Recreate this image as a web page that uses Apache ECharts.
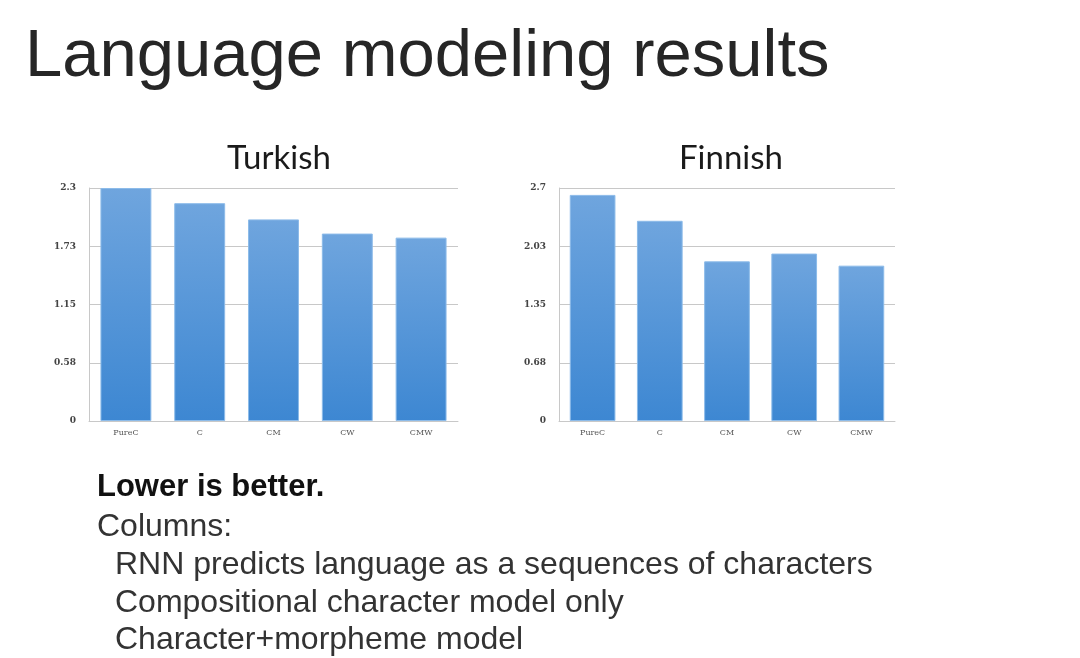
<!DOCTYPE html>
<html>
<head>
<meta charset="utf-8">
<script src="https://cdn.jsdelivr.net/npm/echarts@6/dist/echarts.min.js"></script>
<style>
html,body{margin:0;padding:0;background:#fff;}
#c{width:1080px;height:658px;}
</style>
</head>
<body>
<div id="c"></div>
<script>
const categories = ['PureC', 'C', 'CM', 'CW', 'CMW'];
const turkishValues = [2.30, 2.15, 1.99, 1.85, 1.81];
const finnishValues = [2.62, 2.32, 1.85, 1.94, 1.80];
const turkishTicks = ['0', '0.58', '1.15', '1.73', '2.3'];
const finnishTicks = ['0', '0.68', '1.35', '2.03', '2.7'];
const chartTitles = ['Turkish', 'Finnish'];
const mainTitle = 'Language modeling results';
const noteLines = ['Lower is better.', 'Columns:', 'RNN predicts language as a sequences of characters', 'Compositional character model only', 'Character+morpheme model'];

const chart = echarts.init(document.getElementById('c'), null, {renderer: 'canvas'});

const barColor = new echarts.graphic.LinearGradient(0, 0, 0, 1, [
  {offset: 0, color: '#6fa5de'},
  {offset: 1, color: '#3d87d2'}
]);

function yAxis(idx, max, ticks) {
  return {
    type: 'value', gridIndex: idx, min: 0, max: max, interval: max / 4,
    axisLine: {show: true, lineStyle: {color: '#c8c8c8', width: 1}},
    axisTick: {show: false},
    splitLine: {lineStyle: {color: '#c8c8c8', width: 1}},
    axisLabel: {
      margin: 13, color: '#444', fontSize: 9, fontWeight: 'bold', fontFamily: 'DejaVu Serif',
      formatter: (v, i) => ticks[i]
    }
  };
}
function xAxis(idx) {
  return {
    type: 'category', gridIndex: idx, data: categories,
    axisLine: {show: true, lineStyle: {color: '#c8c8c8', width: 1}},
    axisTick: {show: false},
    axisLabel: {margin: 8, color: '#555', fontSize: 8, fontFamily: 'DejaVu Serif'}
  };
}
function barSeries(idx, values, gap) {
  return {
    type: 'bar', xAxisIndex: idx, yAxisIndex: idx, data: values,
    barCategoryGap: gap,
    itemStyle: {color: barColor, borderColor: '#8cbbe9', borderWidth: 1},
    silent: true
  };
}

const graphics = [
  {type: 'text', left: 25, top: 24, style: {text: mainTitle, font: 'normal 67px "Liberation Sans"', fill: '#262626'}},
  {type: 'text', left: 97, top: 472, style: {text: noteLines[0], font: 'bold 31px "Liberation Sans"', fill: '#111'}},
  {type: 'text', left: 97, top: 511, style: {text: noteLines[1], font: 'normal 32px "Liberation Sans"', fill: '#333'}},
  {type: 'text', left: 115, top: 549, style: {text: noteLines[2], font: 'normal 32px "Liberation Sans"', fill: '#333'}},
  {type: 'text', left: 115, top: 587, style: {text: noteLines[3], font: 'normal 32px "Liberation Sans"', fill: '#333'}},
  {type: 'text', left: 115, top: 624, style: {text: noteLines[4], font: 'normal 32px "Liberation Sans"', fill: '#333'}}
];

chart.setOption({
  animation: false,
  backgroundColor: '#ffffff',
  title: [
    {text: chartTitles[0], left: 274, top: 137, textAlign: 'center',
     textStyle: {fontFamily: 'Lato', fontWeight: 'normal', fontSize: 33, color: '#1a1a1a'}},
    {text: chartTitles[1], left: 726, top: 137, textAlign: 'center',
     textStyle: {fontFamily: 'Lato', fontWeight: 'normal', fontSize: 33, color: '#1a1a1a'}}
  ],
  grid: [
    {left: 89, top: 188, width: 369, height: 233},
    {left: 559, top: 188, width: 336, height: 233}
  ],
  xAxis: [xAxis(0), xAxis(1)],
  yAxis: [yAxis(0, 2.3, turkishTicks), yAxis(1, 2.7, finnishTicks)],
  series: [barSeries(0, turkishValues, '31%'), barSeries(1, finnishValues, '32%')],
  graphic: graphics
});
</script>
</body>
</html>
